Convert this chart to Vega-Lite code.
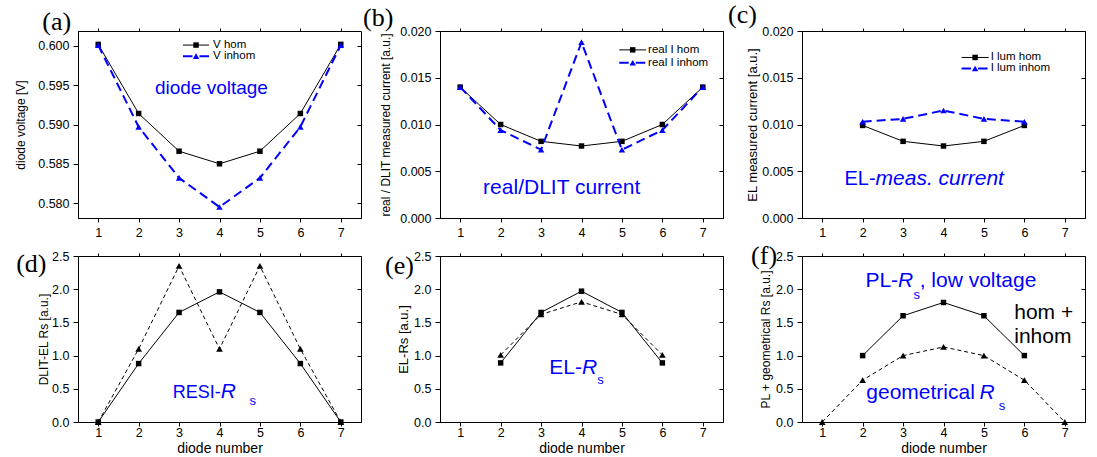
{
  "$schema": "https://vega.github.io/schema/vega-lite/v6.json",
  "background": "white",
  "padding": {"left": 13, "top": 1, "right": 0, "bottom": 0},
  "columns": 3,
  "spacing": {"row": 38, "column": 79},
  "bounds": "flush",
  "align": "each",
  "resolve": {"scale": {"x": "independent", "y": "independent"}},
  "datasets": {
    "a": [
      {"diode": 1, "v": 0.6002, "s": "V hom"}, {"diode": 2, "v": 0.5914, "s": "V hom"}, {"diode": 3, "v": 0.5866, "s": "V hom"}, {"diode": 4, "v": 0.5850, "s": "V hom"}, {"diode": 5, "v": 0.5866, "s": "V hom"}, {"diode": 6, "v": 0.5914, "s": "V hom"}, {"diode": 7, "v": 0.6002, "s": "V hom"},
      {"diode": 1, "v": 0.6001, "s": "V inhom"}, {"diode": 2, "v": 0.5897, "s": "V inhom"}, {"diode": 3, "v": 0.5832, "s": "V inhom"}, {"diode": 4, "v": 0.5795, "s": "V inhom"}, {"diode": 5, "v": 0.5832, "s": "V inhom"}, {"diode": 6, "v": 0.5897, "s": "V inhom"}, {"diode": 7, "v": 0.6001, "s": "V inhom"}
    ],
    "b": [
      {"diode": 1, "v": 0.0140, "s": "real I hom"}, {"diode": 2, "v": 0.0100, "s": "real I hom"}, {"diode": 3, "v": 0.0082, "s": "real I hom"}, {"diode": 4, "v": 0.0077, "s": "real I hom"}, {"diode": 5, "v": 0.0082, "s": "real I hom"}, {"diode": 6, "v": 0.0100, "s": "real I hom"}, {"diode": 7, "v": 0.0140, "s": "real I hom"},
      {"diode": 1, "v": 0.0140, "s": "real I inhom"}, {"diode": 2, "v": 0.0094, "s": "real I inhom"}, {"diode": 3, "v": 0.0073, "s": "real I inhom"}, {"diode": 4, "v": 0.0188, "s": "real I inhom"}, {"diode": 5, "v": 0.0073, "s": "real I inhom"}, {"diode": 6, "v": 0.0094, "s": "real I inhom"}, {"diode": 7, "v": 0.0140, "s": "real I inhom"}
    ],
    "c": [
      {"diode": 2, "v": 0.0099, "s": "I lum hom"}, {"diode": 3, "v": 0.0082, "s": "I lum hom"}, {"diode": 4, "v": 0.0077, "s": "I lum hom"}, {"diode": 5, "v": 0.0082, "s": "I lum hom"}, {"diode": 6, "v": 0.0099, "s": "I lum hom"},
      {"diode": 2, "v": 0.0103, "s": "I lum inhom"}, {"diode": 3, "v": 0.0106, "s": "I lum inhom"}, {"diode": 4, "v": 0.0115, "s": "I lum inhom"}, {"diode": 5, "v": 0.0106, "s": "I lum inhom"}, {"diode": 6, "v": 0.0103, "s": "I lum inhom"}
    ],
    "d": [
      {"diode": 1, "v": 0, "s": "hom"}, {"diode": 2, "v": 0.88, "s": "hom"}, {"diode": 3, "v": 1.65, "s": "hom"}, {"diode": 4, "v": 1.96, "s": "hom"}, {"diode": 5, "v": 1.65, "s": "hom"}, {"diode": 6, "v": 0.88, "s": "hom"}, {"diode": 7, "v": 0, "s": "hom"},
      {"diode": 1, "v": 0, "s": "inhom"}, {"diode": 2, "v": 1.10, "s": "inhom"}, {"diode": 3, "v": 2.35, "s": "inhom"}, {"diode": 4, "v": 1.10, "s": "inhom"}, {"diode": 5, "v": 2.35, "s": "inhom"}, {"diode": 6, "v": 1.10, "s": "inhom"}, {"diode": 7, "v": 0, "s": "inhom"}
    ],
    "e": [
      {"diode": 2, "v": 0.89, "s": "hom"}, {"diode": 3, "v": 1.65, "s": "hom"}, {"diode": 4, "v": 1.97, "s": "hom"}, {"diode": 5, "v": 1.65, "s": "hom"}, {"diode": 6, "v": 0.89, "s": "hom"},
      {"diode": 2, "v": 1.01, "s": "inhom"}, {"diode": 3, "v": 1.62, "s": "inhom"}, {"diode": 4, "v": 1.81, "s": "inhom"}, {"diode": 5, "v": 1.62, "s": "inhom"}, {"diode": 6, "v": 1.01, "s": "inhom"}
    ],
    "f": [
      {"diode": 2, "v": 1.0, "s": "hom"}, {"diode": 3, "v": 1.6, "s": "hom"}, {"diode": 4, "v": 1.8, "s": "hom"}, {"diode": 5, "v": 1.6, "s": "hom"}, {"diode": 6, "v": 1.0, "s": "hom"},
      {"diode": 1, "v": 0, "s": "inhom"}, {"diode": 2, "v": 0.63, "s": "inhom"}, {"diode": 3, "v": 1.0, "s": "inhom"}, {"diode": 4, "v": 1.13, "s": "inhom"}, {"diode": 5, "v": 1.0, "s": "inhom"}, {"diode": 6, "v": 0.63, "s": "inhom"}, {"diode": 7, "v": 0, "s": "inhom"}
    ]
  },
  "concat": [
    {
      "width": 283, "height": 187,
      "data": {"name": "a"},
      "resolve": {"axis": {"x": "independent", "y": "independent"}},
      "layer": [
        {
          "encoding": {
            "x": {"field": "diode", "type": "quantitative", "scale": {"domain": [0.5, 7.5], "nice": false, "zero": false}, "axis": {"values": [1, 2, 3, 4, 5, 6, 7], "format": "d", "title": null}},
            "y": {"field": "v", "type": "quantitative", "scale": {"domain": [0.5781, 0.6019], "nice": false, "zero": false}, "axis": {"values": [0.58, 0.585, 0.59, 0.595, 0.6], "format": ".3f", "title": "diode voltage [V]", "titleFontSize": 12, "titlePadding": 10.7}}
          },
          "layer": [
            {"transform": [{"filter": "datum.s == 'V hom'"}], "mark": {"type": "line", "color": "black", "strokeWidth": 1}},
            {"transform": [{"filter": "datum.s == 'V inhom'"}], "mark": {"type": "line", "color": "#0000ff", "strokeWidth": 2, "strokeDash": [9, 5]}},
            {"transform": [{"filter": "datum.s == 'V hom'"}], "mark": {"type": "point", "shape": "square", "filled": true, "opacity": 1, "color": "black", "size": 30}},
            {"transform": [{"filter": "datum.s == 'V inhom'"}], "mark": {"type": "point", "shape": "triangle-up", "filled": true, "opacity": 1, "color": "#0000ff", "size": 42}},
            {"data": {"values": [{"diode": 3.097, "d2": 3.74, "v": 0.60011}]}, "mark": {"type": "rule", "color": "black", "strokeWidth": 1}, "encoding": {"x2": {"field": "d2"}}},
            {"data": {"values": [{"diode": 3.097, "d2": 3.74, "v": 0.5987}]}, "mark": {"type": "rule", "color": "#0000ff", "strokeWidth": 2, "strokeDash": [9.5, 7]}, "encoding": {"x2": {"field": "d2"}}},
            {"data": {"values": [{"diode": 3.42, "v": 0.60011}]}, "mark": {"type": "point", "shape": "square", "filled": true, "opacity": 1, "color": "black", "size": 30}},
            {"data": {"values": [{"diode": 3.42, "v": 0.5987}]}, "mark": {"type": "point", "shape": "triangle-up", "filled": true, "opacity": 1, "color": "#0000ff", "size": 42}},
            {"data": {"values": [{"diode": 3.84, "v": 0.60011, "t": "V hom"}, {"diode": 3.84, "v": 0.5987, "t": "V inhom"}]}, "mark": {"type": "text", "color": "black", "fontSize": 11.5, "align": "left", "baseline": "middle"}, "encoding": {"text": {"field": "t"}}},
            {"data": {"values": [{"diode": 3.8, "v": 0.5947, "t": "diode voltage"}]}, "mark": {"type": "text", "color": "#0000ff", "fontSize": 19, "align": "center", "baseline": "middle"}, "encoding": {"text": {"field": "t"}}},
            {"data": {"values": [{"diode": -0.385, "v": 0.6020, "t": "(a)"}]}, "mark": {"type": "text", "color": "black", "font": "Liberation Serif", "fontSize": 26, "align": "left", "baseline": "alphabetic"}, "encoding": {"text": {"field": "t"}}}
          ]
        },
        {
          "mark": {"type": "point", "opacity": 0, "size": 1},
          "encoding": {
            "x": {"field": "diode", "type": "quantitative", "axis": {"orient": "top", "values": [1, 2, 3, 4, 5, 6, 7], "labels": false, "domain": false, "tickSize": 3, "title": null}},
            "y": {"field": "v", "type": "quantitative", "axis": {"orient": "right", "values": [0.58, 0.585, 0.59, 0.595, 0.6], "labels": false, "domain": false, "tickSize": -4, "title": null}}
          }
        }
      ]
    },
    {
      "width": 283, "height": 187,
      "data": {"name": "b"},
      "resolve": {"axis": {"x": "independent", "y": "independent"}},
      "layer": [
        {
          "encoding": {
            "x": {"field": "diode", "type": "quantitative", "scale": {"domain": [0.5, 7.5], "nice": false, "zero": false}, "axis": {"values": [1, 2, 3, 4, 5, 6, 7], "format": "d", "title": null}},
            "y": {"field": "v", "type": "quantitative", "scale": {"domain": [0, 0.02], "nice": false, "zero": false}, "axis": {"values": [0, 0.005, 0.01, 0.015, 0.02], "format": ".3f", "title": "real / DLIT measured current [a.u.]", "titleFontSize": 12, "titlePadding": 7.7}}
          },
          "layer": [
            {"transform": [{"filter": "datum.s == 'real I hom'"}], "mark": {"type": "line", "color": "black", "strokeWidth": 1}},
            {"transform": [{"filter": "datum.s == 'real I inhom'"}], "mark": {"type": "line", "color": "#0000ff", "strokeWidth": 2, "strokeDash": [9, 5]}},
            {"transform": [{"filter": "datum.s == 'real I hom'"}], "mark": {"type": "point", "shape": "square", "filled": true, "opacity": 1, "color": "black", "size": 30}},
            {"transform": [{"filter": "datum.s == 'real I inhom'"}], "mark": {"type": "point", "shape": "triangle-up", "filled": true, "opacity": 1, "color": "#0000ff", "size": 42}},
            {"data": {"values": [{"diode": 4.934, "d2": 5.598, "v": 0.01798}]}, "mark": {"type": "rule", "color": "black", "strokeWidth": 1}, "encoding": {"x2": {"field": "d2"}}},
            {"data": {"values": [{"diode": 4.934, "d2": 5.598, "v": 0.0166}]}, "mark": {"type": "rule", "color": "#0000ff", "strokeWidth": 2, "strokeDash": [9.5, 7]}, "encoding": {"x2": {"field": "d2"}}},
            {"data": {"values": [{"diode": 5.266, "v": 0.01798}]}, "mark": {"type": "point", "shape": "square", "filled": true, "opacity": 1, "color": "black", "size": 30}},
            {"data": {"values": [{"diode": 5.266, "v": 0.0166}]}, "mark": {"type": "point", "shape": "triangle-up", "filled": true, "opacity": 1, "color": "#0000ff", "size": 42}},
            {"data": {"values": [{"diode": 5.647, "v": 0.01798, "t": "real I hom"}, {"diode": 5.647, "v": 0.0166, "t": "real I inhom"}]}, "mark": {"type": "text", "color": "black", "fontSize": 11.5, "align": "left", "baseline": "middle"}, "encoding": {"text": {"field": "t"}}},
            {"data": {"values": [{"diode": 3.51, "v": 0.0032, "t": "real/DLIT current"}]}, "mark": {"type": "text", "color": "#0000ff", "fontSize": 21, "align": "center", "baseline": "middle"}, "encoding": {"text": {"field": "t"}}},
            {"data": {"values": [{"diode": -1.405, "v": 0.02053, "t": "(b)"}]}, "mark": {"type": "text", "color": "black", "font": "Liberation Serif", "fontSize": 26, "align": "left", "baseline": "alphabetic"}, "encoding": {"text": {"field": "t"}}}
          ]
        },
        {
          "mark": {"type": "point", "opacity": 0, "size": 1},
          "encoding": {
            "x": {"field": "diode", "type": "quantitative", "axis": {"orient": "top", "values": [1, 2, 3, 4, 5, 6, 7], "labels": false, "domain": false, "tickSize": 3, "title": null}},
            "y": {"field": "v", "type": "quantitative", "axis": {"orient": "right", "values": [0, 0.005, 0.01, 0.015, 0.02], "labels": false, "domain": false, "tickSize": -4, "title": null}}
          }
        }
      ]
    },
    {
      "width": 283, "height": 187,
      "data": {"name": "c"},
      "resolve": {"axis": {"x": "independent", "y": "independent"}},
      "layer": [
        {
          "encoding": {
            "x": {"field": "diode", "type": "quantitative", "scale": {"domain": [0.5, 7.5], "nice": false, "zero": false}, "axis": {"values": [1, 2, 3, 4, 5, 6, 7], "format": "d", "title": null}},
            "y": {"field": "v", "type": "quantitative", "scale": {"domain": [0, 0.02], "nice": false, "zero": false}, "axis": {"values": [0, 0.005, 0.01, 0.015, 0.02], "format": ".3f", "title": "EL measured current [a.u.]", "titleFontSize": 13, "titlePadding": 2.2}}
          },
          "layer": [
            {"transform": [{"filter": "datum.s == 'I lum hom'"}], "mark": {"type": "line", "color": "black", "strokeWidth": 1}},
            {"transform": [{"filter": "datum.s == 'I lum inhom'"}], "mark": {"type": "line", "color": "#0000ff", "strokeWidth": 2, "strokeDash": [9, 5]}},
            {"transform": [{"filter": "datum.s == 'I lum hom'"}], "mark": {"type": "point", "shape": "square", "filled": true, "opacity": 1, "color": "black", "size": 30}},
            {"transform": [{"filter": "datum.s == 'I lum inhom'"}], "mark": {"type": "point", "shape": "triangle-up", "filled": true, "opacity": 1, "color": "#0000ff", "size": 42}},
            {"data": {"values": [{"diode": 4.447, "d2": 5.117, "v": 0.01717}]}, "mark": {"type": "rule", "color": "black", "strokeWidth": 1}, "encoding": {"x2": {"field": "d2"}}},
            {"data": {"values": [{"diode": 4.447, "d2": 5.117, "v": 0.01599}]}, "mark": {"type": "rule", "color": "#0000ff", "strokeWidth": 2, "strokeDash": [9.5, 7]}, "encoding": {"x2": {"field": "d2"}}},
            {"data": {"values": [{"diode": 4.782, "v": 0.01717}]}, "mark": {"type": "point", "shape": "square", "filled": true, "opacity": 1, "color": "black", "size": 30}},
            {"data": {"values": [{"diode": 4.782, "v": 0.01599}]}, "mark": {"type": "point", "shape": "triangle-up", "filled": true, "opacity": 1, "color": "#0000ff", "size": 42}},
            {"data": {"values": [{"diode": 5.166, "v": 0.01717, "t": "I lum hom"}, {"diode": 5.166, "v": 0.01599, "t": "I lum inhom"}]}, "mark": {"type": "text", "color": "black", "fontSize": 11.5, "align": "left", "baseline": "middle"}, "encoding": {"text": {"field": "t"}}},
            {"data": {"values": [{"diode": 2.32, "v": 0.0035, "t": "EL-"}]}, "mark": {"type": "text", "color": "#0000ff", "fontSize": 20, "align": "right", "baseline": "alphabetic"}, "encoding": {"text": {"field": "t"}}},
            {"data": {"values": [{"diode": 2.32, "v": 0.0035, "t": "meas. current"}]}, "mark": {"type": "text", "color": "#0000ff", "fontSize": 21, "fontStyle": "italic", "align": "left", "baseline": "alphabetic"}, "encoding": {"text": {"field": "t"}}},
            {"data": {"values": [{"diode": -1.33, "v": 0.02086, "t": "(c)"}]}, "mark": {"type": "text", "color": "black", "font": "Liberation Serif", "fontSize": 26, "align": "left", "baseline": "alphabetic"}, "encoding": {"text": {"field": "t"}}}
          ]
        },
        {
          "mark": {"type": "point", "opacity": 0, "size": 1},
          "encoding": {
            "x": {"field": "diode", "type": "quantitative", "axis": {"orient": "top", "values": [1, 2, 3, 4, 5, 6, 7], "labels": false, "domain": false, "tickSize": 3, "title": null}},
            "y": {"field": "v", "type": "quantitative", "axis": {"orient": "right", "values": [0, 0.005, 0.01, 0.015, 0.02], "labels": false, "domain": false, "tickSize": -4, "title": null}}
          }
        }
      ]
    },
    {
      "width": 283, "height": 166,
      "data": {"name": "d"},
      "resolve": {"axis": {"x": "independent", "y": "independent"}},
      "layer": [
        {
          "encoding": {
            "x": {"field": "diode", "type": "quantitative", "scale": {"domain": [0.5, 7.5], "nice": false, "zero": false}, "axis": {"values": [1, 2, 3, 4, 5, 6, 7], "format": "d", "title": "diode number", "titleFontSize": 14, "labelPadding": 0, "titlePadding": 2.5}},
            "y": {"field": "v", "type": "quantitative", "scale": {"domain": [0, 2.5], "nice": false, "zero": false}, "axis": {"values": [0, 0.5, 1, 1.5, 2, 2.5], "format": ".1f", "title": "DLIT-EL Rs [a.u.]", "titleFontSize": 12, "titlePadding": 1.6}}
          },
          "layer": [
            {"transform": [{"filter": "datum.s == 'hom'"}], "mark": {"type": "line", "color": "black", "strokeWidth": 1}},
            {"transform": [{"filter": "datum.s == 'inhom'"}], "mark": {"type": "line", "color": "black", "strokeWidth": 1, "strokeDash": [4, 3]}},
            {"transform": [{"filter": "datum.s == 'hom'"}], "mark": {"type": "point", "shape": "square", "filled": true, "opacity": 1, "color": "black", "size": 30}},
            {"transform": [{"filter": "datum.s == 'inhom'"}], "mark": {"type": "point", "shape": "triangle-up", "filled": true, "opacity": 1, "color": "black", "size": 45}},
            {"data": {"values": [{"diode": 4.03, "v": 0.364, "t": "RESI-"}]}, "mark": {"type": "text", "color": "#0000ff", "fontSize": 18, "align": "right", "baseline": "alphabetic"}, "encoding": {"text": {"field": "t"}}},
            {"data": {"values": [{"diode": 4.03, "v": 0.364, "t": "R"}]}, "mark": {"type": "text", "color": "#0000ff", "fontSize": 21, "fontStyle": "italic", "align": "left", "baseline": "alphabetic"}, "encoding": {"text": {"field": "t"}}},
            {"data": {"values": [{"diode": 4.74, "v": 0.255, "t": "s"}]}, "mark": {"type": "text", "color": "#0000ff", "fontSize": 13, "align": "left", "baseline": "alphabetic"}, "encoding": {"text": {"field": "t"}}},
            {"data": {"values": [{"diode": -1.03, "v": 2.259, "t": "(d)"}]}, "mark": {"type": "text", "color": "black", "font": "Liberation Serif", "fontSize": 26, "align": "left", "baseline": "alphabetic"}, "encoding": {"text": {"field": "t"}}}
          ]
        },
        {
          "mark": {"type": "point", "opacity": 0, "size": 1},
          "encoding": {
            "x": {"field": "diode", "type": "quantitative", "axis": {"orient": "top", "values": [1, 2, 3, 4, 5, 6, 7], "labels": false, "domain": false, "tickSize": 3, "title": null}},
            "y": {"field": "v", "type": "quantitative", "axis": {"orient": "right", "values": [0, 0.5, 1, 1.5, 2, 2.5], "labels": false, "domain": false, "tickSize": -4, "title": null}}
          }
        }
      ]
    },
    {
      "width": 283, "height": 166,
      "data": {"name": "e"},
      "resolve": {"axis": {"x": "independent", "y": "independent"}},
      "layer": [
        {
          "encoding": {
            "x": {"field": "diode", "type": "quantitative", "scale": {"domain": [0.5, 7.5], "nice": false, "zero": false}, "axis": {"values": [1, 2, 3, 4, 5, 6, 7], "format": "d", "title": "diode number", "titleFontSize": 14, "labelPadding": 0, "titlePadding": 2.5}},
            "y": {"field": "v", "type": "quantitative", "scale": {"domain": [0, 2.5], "nice": false, "zero": false}, "axis": {"values": [0, 0.5, 1, 1.5, 2, 2.5], "format": ".1f", "title": "EL-Rs [a.u.]", "titleFontSize": 13, "titlePadding": 3}}
          },
          "layer": [
            {"transform": [{"filter": "datum.s == 'hom'"}], "mark": {"type": "line", "color": "black", "strokeWidth": 1}},
            {"transform": [{"filter": "datum.s == 'inhom'"}], "mark": {"type": "line", "color": "black", "strokeWidth": 1, "strokeDash": [4, 3]}},
            {"transform": [{"filter": "datum.s == 'hom'"}], "mark": {"type": "point", "shape": "square", "filled": true, "opacity": 1, "color": "black", "size": 30}},
            {"transform": [{"filter": "datum.s == 'inhom'"}], "mark": {"type": "point", "shape": "triangle-up", "filled": true, "opacity": 1, "color": "black", "size": 45}},
            {"data": {"values": [{"diode": 4.01, "v": 0.72, "t": "EL-"}]}, "mark": {"type": "text", "color": "#0000ff", "fontSize": 21, "align": "right", "baseline": "alphabetic"}, "encoding": {"text": {"field": "t"}}},
            {"data": {"values": [{"diode": 4.01, "v": 0.72, "t": "R"}]}, "mark": {"type": "text", "color": "#0000ff", "fontSize": 21, "fontStyle": "italic", "align": "left", "baseline": "alphabetic"}, "encoding": {"text": {"field": "t"}}},
            {"data": {"values": [{"diode": 4.39, "v": 0.565, "t": "s"}]}, "mark": {"type": "text", "color": "#0000ff", "fontSize": 13, "align": "left", "baseline": "alphabetic"}, "encoding": {"text": {"field": "t"}}},
            {"data": {"values": [{"diode": -0.86, "v": 2.233, "t": "(e)"}]}, "mark": {"type": "text", "color": "black", "font": "Liberation Serif", "fontSize": 26, "align": "left", "baseline": "alphabetic"}, "encoding": {"text": {"field": "t"}}}
          ]
        },
        {
          "mark": {"type": "point", "opacity": 0, "size": 1},
          "encoding": {
            "x": {"field": "diode", "type": "quantitative", "axis": {"orient": "top", "values": [1, 2, 3, 4, 5, 6, 7], "labels": false, "domain": false, "tickSize": 3, "title": null}},
            "y": {"field": "v", "type": "quantitative", "axis": {"orient": "right", "values": [0, 0.5, 1, 1.5, 2, 2.5], "labels": false, "domain": false, "tickSize": -4, "title": null}}
          }
        }
      ]
    },
    {
      "width": 283, "height": 166,
      "data": {"name": "f"},
      "resolve": {"axis": {"x": "independent", "y": "independent"}},
      "layer": [
        {
          "encoding": {
            "x": {"field": "diode", "type": "quantitative", "scale": {"domain": [0.5, 7.5], "nice": false, "zero": false}, "axis": {"values": [1, 2, 3, 4, 5, 6, 7], "format": "d", "title": "diode number", "titleFontSize": 14, "labelPadding": 0, "titlePadding": 2.5}},
            "y": {"field": "v", "type": "quantitative", "scale": {"domain": [0, 2.5], "nice": false, "zero": false}, "axis": {"values": [0, 0.5, 1, 1.5, 2, 2.5], "format": ".1f", "title": "PL + geometrical Rs [a.u.]", "titleFontSize": 12, "titlePadding": 3.6}}
          },
          "layer": [
            {"transform": [{"filter": "datum.s == 'hom'"}], "mark": {"type": "line", "color": "black", "strokeWidth": 1}},
            {"transform": [{"filter": "datum.s == 'inhom'"}], "mark": {"type": "line", "color": "black", "strokeWidth": 1, "strokeDash": [4, 3]}},
            {"transform": [{"filter": "datum.s == 'hom'"}], "mark": {"type": "point", "shape": "square", "filled": true, "opacity": 1, "color": "black", "size": 30}},
            {"transform": [{"filter": "datum.s == 'inhom'"}], "mark": {"type": "point", "shape": "triangle-up", "filled": true, "opacity": 1, "color": "black", "size": 45}},
            {"data": {"values": [{"diode": 2.877, "v": 2.03, "t": "PL-"}]}, "mark": {"type": "text", "color": "#0000ff", "fontSize": 21, "align": "right", "baseline": "alphabetic"}, "encoding": {"text": {"field": "t"}}},
            {"data": {"values": [{"diode": 2.877, "v": 2.03, "t": "R"}, {"diode": 4.89, "v": 0.346, "t": "R"}]}, "mark": {"type": "text", "color": "#0000ff", "fontSize": 21, "fontStyle": "italic", "align": "left", "baseline": "alphabetic"}, "encoding": {"text": {"field": "t"}}},
            {"data": {"values": [{"diode": 3.256, "v": 1.857, "t": "s"}, {"diode": 5.364, "v": 0.188, "t": "s"}]}, "mark": {"type": "text", "color": "#0000ff", "fontSize": 13, "align": "left", "baseline": "alphabetic"}, "encoding": {"text": {"field": "t"}}},
            {"data": {"values": [{"diode": 3.41, "v": 2.03, "t": ", low voltage"}, {"diode": 2.09, "v": 0.346, "t": "geometrical"}]}, "mark": {"type": "text", "color": "#0000ff", "fontSize": 21, "align": "left", "baseline": "alphabetic"}, "encoding": {"text": {"field": "t"}}},
            {"data": {"values": [{"diode": 5.75, "v": 1.547, "t": "hom +"}, {"diode": 5.75, "v": 1.188, "t": "inhom"}]}, "mark": {"type": "text", "color": "black", "fontSize": 21, "align": "left", "baseline": "alphabetic"}, "encoding": {"text": {"field": "t"}}},
            {"data": {"values": [{"diode": -0.76, "v": 2.38, "t": "(f)"}]}, "mark": {"type": "text", "color": "black", "font": "Liberation Serif", "fontSize": 26, "align": "left", "baseline": "alphabetic"}, "encoding": {"text": {"field": "t"}}}
          ]
        },
        {
          "mark": {"type": "point", "opacity": 0, "size": 1},
          "encoding": {
            "x": {"field": "diode", "type": "quantitative", "axis": {"orient": "top", "values": [1, 2, 3, 4, 5, 6, 7], "labels": false, "domain": false, "tickSize": 3, "title": null}},
            "y": {"field": "v", "type": "quantitative", "axis": {"orient": "right", "values": [0, 0.5, 1, 1.5, 2, 2.5], "labels": false, "domain": false, "tickSize": -4, "title": null}}
          }
        }
      ]
    }
  ],
  "config": {
    "font": "Liberation Sans",
    "view": {"stroke": "black", "strokeWidth": 1},
    "axis": {"grid": false, "domainColor": "black", "tickColor": "black", "labelColor": "black", "labelFontSize": 12.5, "labelFont": "Liberation Sans", "titleFont": "Liberation Sans", "titleFontWeight": "normal", "titleColor": "black", "labelPadding": 4},
    "axisX": {"tickSize": 4},
    "axisY": {"tickSize": 5}
  }
}
